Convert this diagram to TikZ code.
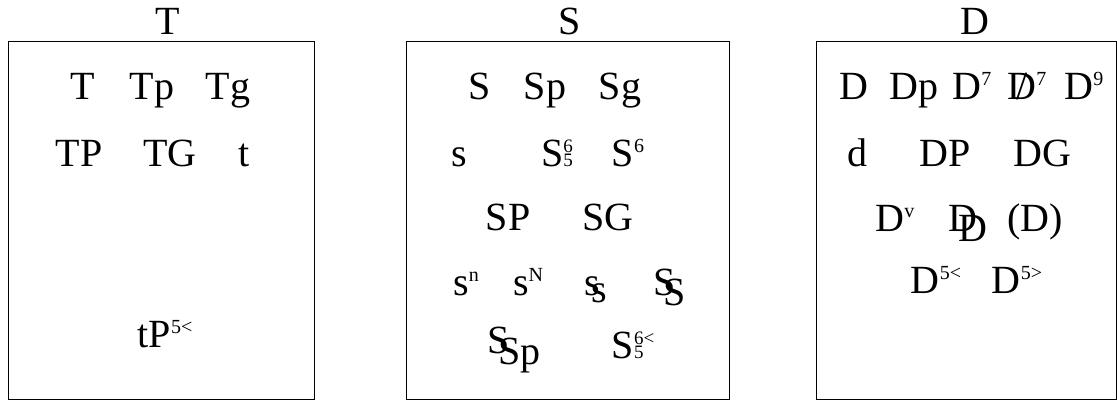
\documentclass[tikz,border=0pt]{standalone}
\usepackage{fontspec}
\setmainfont{Liberation Serif}
\usetikzlibrary{positioning}
\newcommand{\hoch}[1]{\raisebox{0.33em}{\fontsize{10}{10}\selectfont #1}}
\newcommand{\hochtief}[2]{{\fontsize{9.5}{9.5}\selectfont\ooalign{\raisebox{0.72em}{#1}\cr #2}}}
\newcommand{\doppel}[3]{\ooalign{#1\cr\hspace{#3}\raisebox{-#3}{#2}}}
\newcommand{\quer}[1]{\ooalign{\hidewidth/\hidewidth\cr #1}}
\tikzset{
	kasten/.style={draw=black, line width=0.6pt, inner sep=0pt, anchor=north west},
	funktion/.style={anchor=base, inner sep=0pt, font=\fontsize{20}{24}\selectfont},
	% titles above the three boxes
	titel/.style={inner sep=0pt, font=\fontsize{20}{24}\selectfont},
}
\begin{document}
\begin{tikzpicture}[x=0.5pt, y=-0.5pt]
			\useasboundingbox (0,0) rectangle (1117,401);
			\node[kasten, minimum width=153pt, minimum height=179pt] (kastenT) at (8,41) {};
			\node[kasten, minimum width=161.5pt, minimum height=179pt] (kastenS) at (406,41) {};
			\node[kasten, minimum width=150pt, minimum height=179pt] (kastenD) at (816,41) {};
			\node[titel, above=3pt of kastenT.north, xshift=3pt] (titelT) {T};
			\node[titel, above=3pt of kastenS.north, xshift=0.8pt] (titelS) {S};
			\node[titel, above=3pt of kastenD.north, xshift=4pt] (titelD) {D};
			\node[funktion] (t1) at (83,99) {T};
			\node[funktion] (tp) at (152,99) {Tp};
			\node[funktion] (tg) at (228,99) {Tg};
			\node[funktion] (tP) at (79,166) {TP};
			\node[funktion] (tG) at (170,166) {TG};
			\node[funktion] (tmoll) at (244,166) {t};
			\node[funktion] (tP5) at (165,347) {tP\hoch{5<}};
			\node[funktion] (s1) at (480,99) {S};
			\node[funktion] (sp) at (545,99) {Sp};
			\node[funktion] (sg) at (620,99) {Sg};
			\node[funktion] (smoll) at (459,166) {s};
			\node[funktion] (s65) at (557,166) {S\hochtief{6}{5}};
			\node[funktion] (s6) at (628,166) {S\hoch{6}};
			\node[funktion] (sP) at (508,230) {SP};
			\node[funktion] (sG) at (608,230) {SG};
			\node[funktion] (sn) at (466,295) {s\hoch{n}};
			\node[funktion] (sN) at (528,295) {s\hoch{N}};
			\node[funktion] (ss) at (596,295) {\doppel{s}{s}{3.5pt}};
			\node[funktion] (sS) at (670,295) {\doppel{S}{S}{5pt}};
			\node[funktion] (sSp) at (514,353) {\doppel{S}{Sp}{5.5pt}};
			\node[funktion] (s65v) at (633,358) {S\hochtief{6<}{5}};
			\node[funktion] (d1) at (854,99) {D};
			\node[funktion] (dp) at (914,99) {Dp};
			\node[funktion] (d7) at (972,99) {D\hoch{7}};
			\node[funktion] (dv7) at (1027,99) {\quer{D}\hoch{7}};
			\node[funktion] (d9) at (1084,99) {D\hoch{9}};
			\node[funktion] (dmoll) at (857,166) {d};
			\node[funktion] (dP) at (945,166) {DP};
			\node[funktion] (dG) at (1042,166) {DG};
			\node[funktion] (dv) at (895,231) {D\hoch{v}};
			\node[funktion] (dd) at (968,231) {\doppel{D}{D}{5pt}};
			\node[funktion] (zw) at (1035,231) {(D)};
			\node[funktion] (d5h) at (936,293) {D\hoch{5<}};
			\node[funktion] (d5t) at (1017,293) {D\hoch{5>}};
		\end{tikzpicture}
\end{document}
